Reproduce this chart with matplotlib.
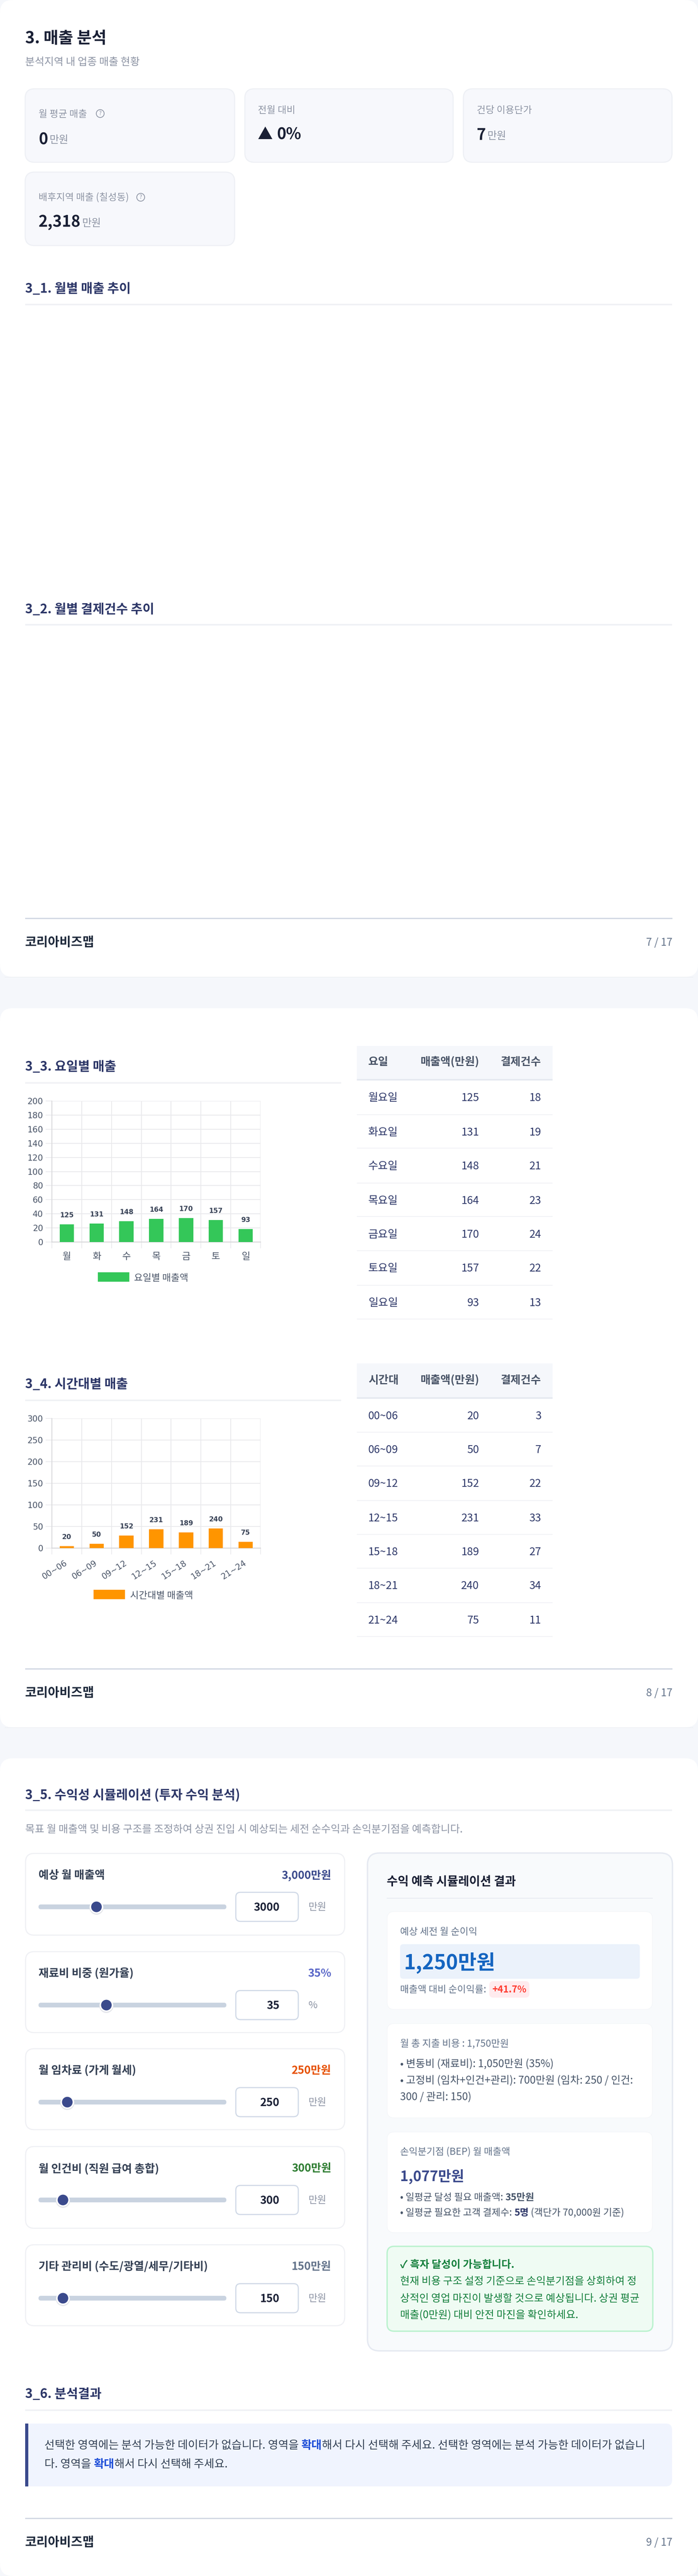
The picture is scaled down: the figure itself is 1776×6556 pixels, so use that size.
import matplotlib
matplotlib.use('Agg')
import matplotlib.pyplot as plt
from matplotlib.patches import FancyBboxPatch, Rectangle, Circle, Polygon
from matplotlib.transforms import ScaledTranslation

plt.rcParams['font.family'] = ['Noto Sans CJK KR', 'DejaVu Sans']

W, H = 1776, 6556

# KPI cards
kpi_labels = ['월 평균 매출', '전월 대비', '건당 이용단가', '배후지역 매출 (칠성동)']
kpi_values = ['0', '0%', '7', '2,318']

# weekday chart and table
day_short = ['월', '화', '수', '목', '금', '토', '일']
day_long = ['월요일', '화요일', '수요일', '목요일', '금요일', '토요일', '일요일']
day_sales = [125, 131, 148, 164, 170, 157, 93]
day_count = [18, 19, 21, 23, 24, 22, 13]
day_bar_height = [25, 26.2, 29.6, 32.8, 34, 31.4, 18.6]

# time band chart and table
time_labels = ['00~06', '06~09', '09~12', '12~15', '15~18', '18~21', '21~24']
time_sales = [20, 50, 152, 231, 189, 240, 75]
time_count = [3, 7, 22, 33, 27, 34, 11]
time_bar_height = [3.8, 9.4, 28.7, 43.6, 35.7, 45.3, 14.2]

# simulation sliders
slider_labels = ['예상 월 매출액', '재료비 비중 (원가율)', '월 임차료 (가게 월세)',
                 '월 인건비 (직원 급여 총합)', '기타 관리비 (수도/광열/세무/기타비)']
slider_texts = ['3,000만원', '35%', '250만원', '300만원', '150만원']
slider_values = [3000, 35, 250, 300, 150]
slider_mins = [100, 0, 0, 0, 0]
slider_maxs = [10000, 100, 2000, 3000, 1500]
slider_units = ['만원', '%', '만원', '만원', '만원']
slider_colors = ['#3b4a8c', '#5a67c8', '#e65100', '#2e7d32', '#64748b']

NAVY = '#2d3768'
INK = '#1a2035'
GRAY = '#8e95a5'
SLATE = '#64748b'
LINE = '#f0f1f5'

fig = plt.figure(figsize=(W / 100, H / 100), dpi=100, facecolor='#f5f7fb')
ax = fig.add_axes([0, 0, 1, 1])
ax.set_xlim(0, W)
ax.set_ylim(H, 0)
ax.axis('off')
rend = fig.canvas.get_renderer()


def t(x, y, s, size, color=INK, weight='normal', ha='left', **kw):
    # +3: va='center' sits a little above the css line centre
    kw.setdefault('zorder', 5)
    return ax.text(x, y + 3, s, fontsize=size * 0.72, color=color, fontweight=weight,
                   ha=ha, va='center', **kw)


def runs(x, y, parts, size):
    # one line made of pieces with different colour or weight
    for s, color, weight in parts:
        txt = t(x, y, s, size, color, weight)
        x += txt.get_window_extent(rend).width


def box(x0, y0, x1, y1, r, fc, ec='none', lw=0, z=1):
    p = FancyBboxPatch((x0 + r, y0 + r), x1 - x0 - 2 * r, y1 - y0 - 2 * r,
                       boxstyle='round,pad=%f,rounding_size=%f' % (r, r),
                       fc=fc, ec=ec, lw=lw, zorder=z)
    ax.add_patch(p)
    return p


def rect(x0, y0, x1, y1, fc, z=2):
    ax.add_patch(Rectangle((x0, y0), x1 - x0, y1 - y0, fc=fc, ec='none', zorder=z))


def heading(y, s, line_y, x1=1710):
    t(64, y, s, 32.5, NAVY, 'bold')
    rect(64, line_y - 2, x1, line_y + 2, LINE)


def footer(line_y, text_y, page):
    rect(64, line_y - 1.5, 1711, line_y + 1.5, '#cfd6e2')
    t(64, text_y, '코리아비즈맵', 32, '#1e293b', 'bold')
    t(1711, text_y, page, 26.7, SLATE, ha='right')


def help_icon(x, y):
    ax.add_patch(Circle((x, y), 10, fc='none', ec=GRAY, lw=1.4, zorder=5))
    t(x, y - 3, '?', 14, GRAY, ha='center', zorder=6)


def table(head, rows, hdr_top, hdr_bot, hdr_y, row_y, line_y):
    rect(908, hdr_top, 1406, hdr_bot, '#f5f7fb')
    rect(908, hdr_bot, 1406, hdr_bot + 4, '#e5e9f0')
    t(937, hdr_y, head[0], 28, '#4a5568', 'bold')
    t(1219, hdr_y, head[1], 28, '#4a5568', 'bold', ha='right')
    t(1377, hdr_y, head[2], 28, '#4a5568', 'bold', ha='right')
    for i, row in enumerate(rows):
        t(937, row_y[i], row[0], 27.5, NAVY)
        t(1219, row_y[i], str(row[1]), 27.5, NAVY, ha='right')
        t(1377, row_y[i], str(row[2]), 27.5, NAVY, ha='right')
        rect(908, line_y[i] - 1, 1406, line_y[i] + 1, '#f0f1f5')


def bar_chart(top, zero, ymax, step, names, heights, labels, color, rot):
    # position in figure fractions from the pixel box of the plot area
    c = fig.add_axes([132 / W, 1 - zero / H, 531 / W, (zero - top) / H])
    c.set_facecolor('none')
    pos = list(range(len(names)))
    c.bar(pos, heights, width=0.48, color=color, zorder=3)
    c.set_xlim(-0.5, 6.5)
    c.set_ylim(0, ymax)
    c.set_yticks(list(range(0, ymax + 1, step)))
    c.set_xticks([p - 0.5 for p in pos] + [6.5])
    c.set_xticklabels([])
    c.set_xticks(pos, minor=True)
    c.grid(True, color='#e9e9ec', lw=1.5, zorder=0)
    c.tick_params(axis='both', which='major', length=11.5, width=1.1, color='#e6e6e9')
    c.tick_params(axis='y', labelsize=21 * 0.72, labelcolor='#4a5568', pad=4.5)
    if rot:
        c.tick_params(axis='x', which='minor', length=0, labelsize=21 * 0.72,
                      labelcolor='#4a5568', pad=20)
        c.set_xticklabels(names, minor=True, rotation=rot, ha='right', rotation_mode='anchor')
        shift = ScaledTranslation(-6 / 100, 0, fig.dpi_scale_trans)
        for lab in c.get_xticklabels(minor=True):
            lab.set_transform(lab.get_transform() + shift)
    else:
        c.tick_params(axis='x', which='minor', length=0, labelsize=24 * 0.72,
                      labelcolor='#4a5568', pad=18)
        c.set_xticklabels(names, minor=True)
    for lab in c.get_xticklabels(minor=True) + c.get_yticklabels():
        lab.set_fontfamily(['DejaVu Sans', 'Noto Sans CJK KR'])
    for s in ['top', 'right']:
        c.spines[s].set_visible(False)
    c.spines['left'].set_color('#d9d9dc')
    c.spines['left'].set_linewidth(1.6)
    c.spines['bottom'].set_color('#d5d5d8')
    c.spines['bottom'].set_linewidth(1.6)
    for p, h, lab in zip(pos, heights, labels):
        c.annotate(str(lab), (p, h), xytext=(0, 16.5), textcoords='offset points',
                   ha='center', va='center', fontsize=17 * 0.72, fontweight='bold',
                   color='#3a4458', family=['DejaVu Sans'], zorder=6)
    return c


# pages
box(0, 0, W, 2486, 32, '#ffffff')
box(0, 2566, W, 4396, 32, '#ffffff')
box(0, 4475, W, H, 32, '#ffffff')
rect(12, 2486, W - 12, 2488, '#eff1f5', z=0.5)
rect(12, 4396, W - 12, 4398, '#eff1f5', z=0.5)

# page 7
t(64, 95, '3. 매출 분석', 41, INK, 'bold')
t(64, 156, '분석지역 내 업종 매출 현황', 26.5, GRAY)

cards = [(64, 226, 597, 413), (623, 226, 1153, 413), (1179, 226, 1710, 413), (64, 438, 597, 625)]
for c in cards:
    box(c[0], c[1], c[2], c[3], 24, '#f7f8fc', '#eef0f5', 2)
t(98, 288, kpi_labels[0], 24.4, GRAY)
help_icon(255, 289)
t(98, 353, kpi_values[0], 40, INK, 'bold')
t(126, 354, '만원', 26.5, GRAY)
t(656, 278, kpi_labels[1], 24.4, GRAY)
ax.add_patch(Polygon([[675, 322], [657, 354], [693, 354]], fc=INK, ec='none', zorder=5))
t(704, 340, kpi_values[1], 40, INK, 'bold')
t(1213, 278, kpi_labels[2], 24.4, GRAY)
t(1213, 341, kpi_values[2], 40, INK, 'bold')
t(1240, 344, '만원', 26.5, GRAY)
t(98, 500, kpi_labels[3], 24.4, GRAY)
help_icon(358, 502)
t(98, 563, kpi_values[3], 40, INK, 'bold')
t(209, 565, '만원', 26.5, GRAY)

heading(732, '3_1. 월별 매출 추이', 775)
heading(1548, '3_2. 월별 결제건수 추이', 1590)
footer(2337, 2396, '7 / 17')

# page 8
heading(2712, '3_3. 요일별 매출', 2756, x1=868)
bar_chart(2802, 3161, 200, 20, day_short, day_bar_height, day_sales, '#34c759', 0)
rect(249, 3238, 329, 3262, '#34c759')
t(341, 3250, '요일별 매출액', 24, '#4a5568')
table(['요일', '매출액(만원)', '결제건수'],
      list(zip(day_long, day_sales, day_count)), 2662, 2746, 2700,
      [2791, 2879, 2966, 3054, 3140, 3225, 3313],
      [2837, 2922, 3011, 3096, 3183, 3271, 3357])

heading(3520, '3_4. 시간대별 매출', 3564, x1=868)
bar_chart(3610, 3939.5, 300, 50, time_labels, time_bar_height, time_sales, '#ff9500', 33)
rect(238, 4046, 318, 4070, '#ff9500')
t(331, 4058, '시간대별 매출액', 24, '#4a5568')
table(['시간대', '매출액(만원)', '결제건수'],
      list(zip(time_labels, time_sales, time_count)), 3470, 3556, 3510,
      [3601, 3688, 3774, 3862, 3948, 4034, 4122],
      [3645, 3731, 3819, 3905, 3991, 4079, 4165])
footer(4247, 4306, '8 / 17')

# page 9
heading(4566, '3_5. 수익성 시뮬레이션 (투자 수익 분석)', 4607)
t(64, 4654, '목표 월 매출액 및 비용 구조를 조정하여 상권 진입 시 예상되는 세전 순수익과 손익분기점을 예측합니다.', 26.5, GRAY)

card_tops = [4717, 4967, 5214, 5463, 5713]
card_bots = [4925, 5173, 5420, 5671, 5919]
for i in range(5):
    box(65, card_tops[i], 877, card_bots[i], 22, '#ffffff', '#eff0f4', 2)
    ly = card_tops[i] + 53
    sy = card_tops[i] + 136
    t(98, ly, slider_labels[i], 28.3, '#344054', 'bold')
    t(843, ly, slider_texts[i], 28, slider_colors[i], 'bold', ha='right')
    box(98, sy - 6, 576, sy + 6, 6, '#c9d3e0', z=3)
    frac = (slider_values[i] - slider_mins[i]) / (slider_maxs[i] - slider_mins[i])
    tx = 116 + frac * 442
    ax.add_patch(Circle((tx, sy + 2), 18, fc='#e3e5ea', ec='none', zorder=4))
    ax.add_patch(Circle((tx, sy), 17, fc='#ffffff', ec='none', zorder=5))
    ax.add_patch(Circle((tx, sy), 13.5, fc='#3b4a8c', ec='none', zorder=6))
    box(600, sy - 37, 759, sy + 37, 12, '#ffffff', '#cfd8e6', 2, z=3)
    t(711, sy - 1, str(slider_values[i]), 28, INK, 'bold', ha='right')
    t(785, sy - 2, slider_units[i], 25, GRAY)

# result panel
box(935, 4716, 1711, 5983, 30, '#f8fafc', '#e5e9f1', 2.5)
t(984, 4786, '수익 예측 시뮬레이션 결과', 30.5, INK, 'bold')
rect(984, 4829.5, 1661, 4832, '#e5e9f1')

box(985, 4865, 1660, 5114, 18, '#ffffff', '#f3f5f8', 1, z=2)
t(1018, 4914, '예상 세전 월 순이익', 24.4, SLATE)
box(1018, 4948, 1628, 5036, 8, '#ebf2fb', z=3)
t(1028, 4993, '1,250만원', 51.5, '#1565c0', 'bold')
t(1018, 5061, '매출액 대비 순이익률:', 24.3, SLATE)
box(1245, 5042, 1347, 5084, 10, '#ffebee', z=3)
t(1296, 5061, '+41.7%', 24, '#ff3b30', 'bold', ha='center')

box(985, 5150, 1660, 5390, 18, '#ffffff', '#f3f5f8', 1, z=2)
t(1018, 5199, '월 총 지출 비용 : 1,750만원', 24.6, SLATE)
t(1018, 5250, '• 변동비 (재료비): 1,050만원 (35%)', 26.5, '#475569')
t(1018, 5292, '• 고정비 (임차+인건+관리): 700만원 (임차: 250 / 인건:', 26.5, '#475569')
t(1018, 5334, '300 / 관리: 150)', 26.5, '#475569')

box(985, 5426, 1660, 5682, 18, '#ffffff', '#f3f5f8', 1, z=2)
t(1018, 5474, '손익분기점 (BEP) 월 매출액', 24.3, SLATE)
t(1018, 5537, '1,077만원', 36, '#3b4a8c', 'bold')
runs(1018, 5590, [('• 일평균 달성 필요 매출액: ', '#475569', 'normal'),
                  ('35만원', '#475569', 'bold')], 24.5)
runs(1018, 5629, [('• 일평균 필요한 고객 결제수: ', '#475569', 'normal'),
                  ('5명', NAVY, 'bold'),
                  (' (객단가 70,000원 기준)', '#475569', 'normal')], 24.5)

box(985, 5717, 1661, 5933, 18, '#effbf3', '#bbf2cf', 2.5, z=2)
t(1018, 5762, '✓ 흑자 달성이 가능합니다.', 26.6, '#15803d', 'bold')
t(1018, 5804, '현재 비용 구조 설정 기준으로 손익분기점을 상회하여 정', 26.5, '#15803d')
t(1018, 5847, '상적인 영업 마진이 발생할 것으로 예상됩니다. 상권 평균', 26.5, '#15803d')
t(1018, 5889, '매출(0만원) 대비 안전 마진을 확인하세요.', 26.5, '#15803d')

# analysis result
heading(6090, '3_6. 분석결과', 6134)
box(64, 6168, 1710, 6328, 16, '#f0f4fe')
rect(64, 6168, 72, 6328, '#3b4a8c', z=3)
runs(113, 6221, [('선택한 영역에는 분석 가능한 데이터가 없습니다. 영역을 ', '#334155', 'normal'),
                 ('확대', '#1d4ed8', 'bold'),
                 ('해서 다시 선택해 주세요. 선택한 영역에는 분석 가능한 데이터가 없습니', '#334155', 'normal')], 28.45)
runs(113, 6269, [('다. 영역을 ', '#334155', 'normal'),
                 ('확대', '#1d4ed8', 'bold'),
                 ('해서 다시 선택해 주세요.', '#334155', 'normal')], 28.45)
footer(6409, 6468, '9 / 17')

plt.savefig('out.png', dpi=100, facecolor=fig.get_facecolor())
